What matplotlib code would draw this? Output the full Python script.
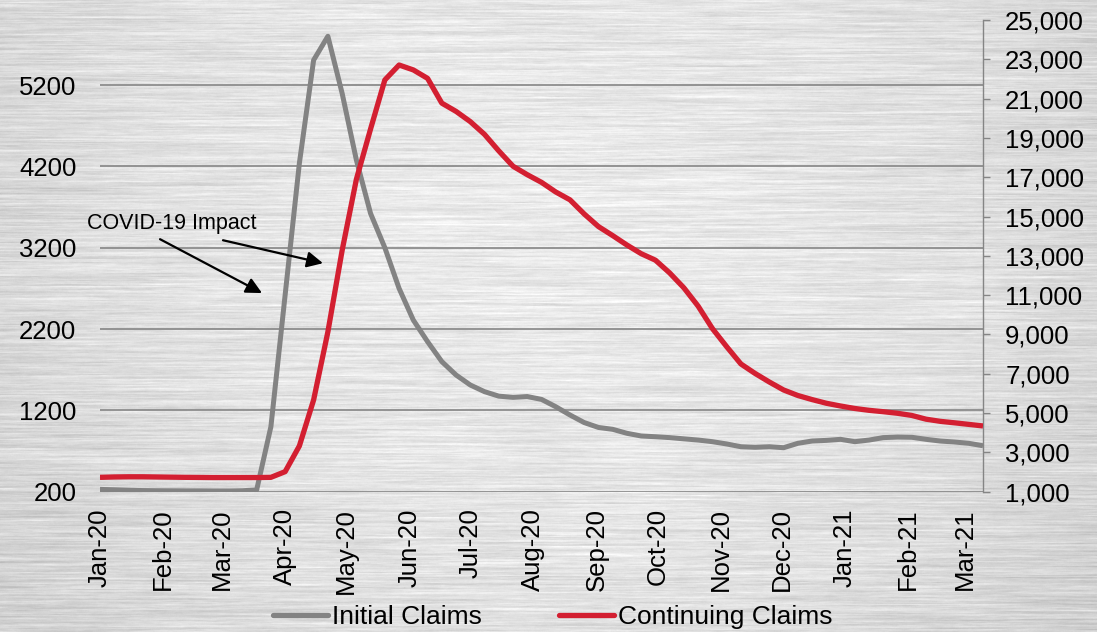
import numpy as np
import pandas as pd
import matplotlib
matplotlib.use("Agg")
import matplotlib.pyplot as plt
import matplotlib.dates as mdates
from matplotlib import font_manager
from matplotlib.lines import Line2D
from matplotlib.ticker import FuncFormatter

# Weekly jobless claims, thousands (4-week moving averages)
week_start = "2020-01-04"
n_weeks = 63

initial_claims = [
    228, 224, 218, 214, 212, 211, 210, 210, 209, 209, 212, 222,
    1000, 2620, 4240, 5507, 5800, 5100, 4280, 3620, 3200, 2700,
    2310, 2045, 1800, 1635, 1512, 1430, 1375, 1360, 1370, 1335,
    1245, 1143, 1050, 990, 967, 918, 885, 876, 865, 850,
    835, 815, 787, 753, 746, 753, 741, 795, 823, 831,
    844, 815, 835, 865, 872, 869, 844, 823, 811, 795, 765,
]

continuing_claims = [
    1730, 1750, 1760, 1760, 1750, 1740, 1730, 1725, 1720, 1720, 1720, 1720,
    1730, 2020, 3330, 5670, 9130, 13270, 16890, 19460, 21950, 22710,
    22460, 22030, 20770, 20350, 19830, 19180, 18340, 17560, 17130, 16740,
    16250, 15850, 15130, 14490, 14030, 13550, 13110, 12780, 12130, 11370,
    10440, 9300, 8380, 7500, 7015, 6580, 6175, 5895, 5687, 5500,
    5360, 5235, 5140, 5070, 4990, 4880, 4690, 4580, 4505, 4425, 4345,
]

left_ticks = [200, 1200, 2200, 3200, 4200, 5200]
right_ticks = list(range(1000, 25001, 2000))
series_names = ["Initial Claims", "Continuing Claims"]
annotation_text = "COVID-19 Impact"

dates = pd.date_range(week_start, periods=n_weeks, freq="7D")
month_ticks = pd.date_range("2020-01-01", "2021-03-01", freq="MS") + pd.Timedelta(days=3)

GRAY = "#838383"
RED = "#D31F31"
GRID = "#858585"


def font_available(name):
    try:
        font_manager.findfont(font_manager.FontProperties(family=name),
                              fallback_to_default=False)
        return True
    except Exception:
        return False


BASE_FONT = "Liberation Sans" if font_available("Liberation Sans") else "DejaVu Sans"
plt.rcParams["font.family"] = [BASE_FONT, "DejaVu Sans"]

W, H = 1097, 632
fig = plt.figure(figsize=(W / 100, H / 100), dpi=100)

# brushed-metal backdrop
rng = np.random.default_rng(11)
noise = rng.normal(size=(H, W + 200))
kernel = np.ones(90) / 90
streaks = np.array([np.convolve(r, kernel, mode="same") for r in noise])[:, 100:100 + W]
streaks = (streaks + 0.5 * np.roll(streaks, 1, axis=0)) / 1.5
streaks /= streaks.std()
fine = rng.normal(size=(H, W + 40))
fk = np.ones(15) / 15
fine = np.array([np.convolve(r, fk, mode="same") for r in fine])[:, 20:20 + W]
fine /= fine.std()
yy, xx = np.mgrid[0:H, 0:W]
cx = (xx - W * 0.5) / (W * 0.5)
cy = (yy - H * 0.35) / (H * 0.75)
vignette = 0.915 - 0.07 * (cx ** 2) - 0.05 * (cy ** 2)
tex = np.clip(vignette + 0.024 * streaks + 0.008 * fine, 0, 1)
bg = fig.add_axes([0, 0, 1, 1], zorder=-10)
bg.imshow(tex, cmap="gray", vmin=0, vmax=1, aspect="auto", interpolation="bilinear")
bg.set_axis_off()

ax = fig.add_axes([100 / W, 1 - 491.7 / H, 883 / W, 471.7 / H])
ax.patch.set_alpha(0)
ax2 = ax.twinx()
ax2.patch.set_alpha(0)

ax.plot(dates, initial_claims, color=GRAY, lw=3.6, solid_joinstyle="round",
        solid_capstyle="butt", zorder=3)
ax2.plot(dates, continuing_claims, color=RED, lw=3.8, solid_joinstyle="round",
         solid_capstyle="butt", zorder=3)

ax.set_xlim(dates[0], dates[-1])
ax.set_ylim(200, 6000)
ax2.set_ylim(1000, 25000)

ax.set_yticks(left_ticks)
ax2.set_yticks(right_ticks)
ax2.yaxis.set_major_formatter(FuncFormatter(lambda v, p: f"{int(v):,}"))

ax.set_xticks(month_ticks)
ax.xaxis.set_major_formatter(mdates.DateFormatter("%b-%y"))

ax.yaxis.grid(True, color=GRID, lw=1.2, zorder=0)
ax.set_axisbelow(True)

for s in ["top", "left", "bottom", "right"]:
    ax.spines[s].set_visible(False)
for s in ["top", "left", "bottom"]:
    ax2.spines[s].set_visible(False)
ax2.spines["right"].set_color(GRID)
ax2.spines["right"].set_linewidth(1.0)

ax.tick_params(axis="y", length=0, pad=17, labelsize=18.5, labelcolor="black")
ax.tick_params(axis="x", length=0, pad=12, labelsize=18.5, labelrotation=90,
               labelcolor="black")
ax2.tick_params(axis="y", length=5, width=1.0, color=GRID, pad=11, labelsize=18.5,
                labelcolor="black")

ax.text(-0.0147, 0.5696, annotation_text, transform=ax.transAxes, ha="left",
        va="center", fontsize=15.5, color="black")
arrow_kw = dict(arrowstyle="-|>", color="black", lw=1.6, mutation_scale=24,
                shrinkA=0, shrinkB=0)
ax.annotate("", xy=(0.1835, 0.4211), xytext=(0.0680, 0.5353),
            xycoords="axes fraction", textcoords="axes fraction", arrowprops=arrow_kw)
ax.annotate("", xy=(0.2525, 0.4844), xytext=(0.1393, 0.5331),
            xycoords="axes fraction", textcoords="axes fraction", arrowprops=arrow_kw)

handles = [Line2D([], [], color=GRAY, lw=3.8, solid_capstyle="round"),
           Line2D([], [], color=RED, lw=3.8, solid_capstyle="round")]
fig.legend(handles, series_names, loc="center", bbox_to_anchor=(0.504, 0.0237),
           ncol=2, frameon=False, prop=dict(family=BASE_FONT, size=19),
           borderpad=0, handlelength=2.1, handletextpad=0.15, columnspacing=2.9)

fig.savefig("out.png", dpi=100)
